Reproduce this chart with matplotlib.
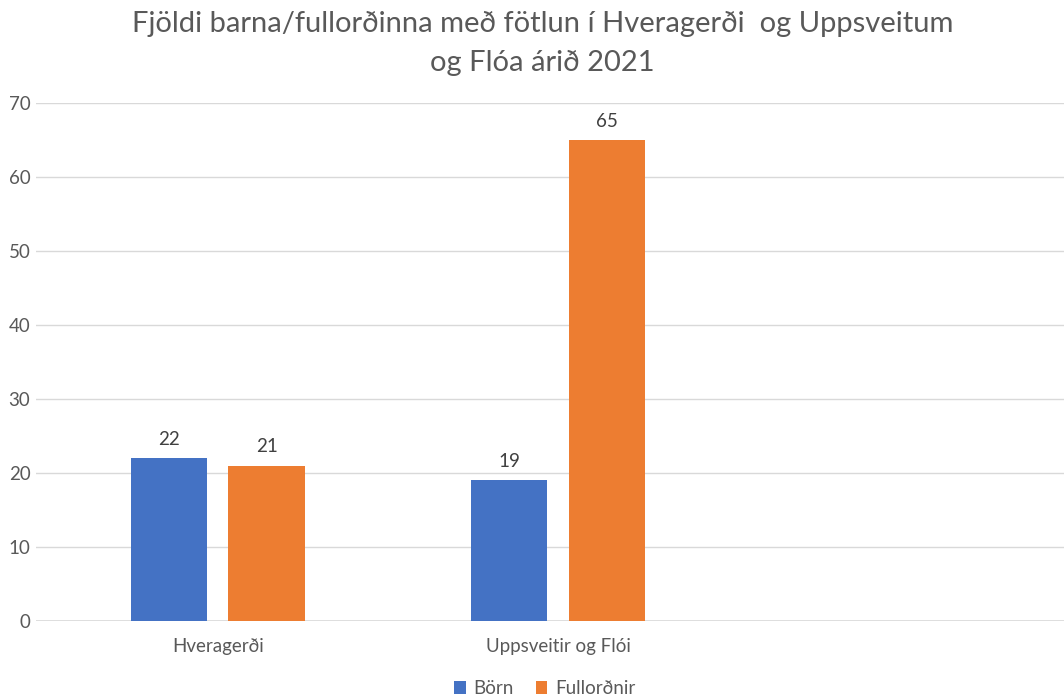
import numpy as np
import matplotlib
matplotlib.use("Agg")
import matplotlib.pyplot as plt

# gögn lesin af myndinni
flokkar = ["Hveragerði", "Uppsveitir og Flói", ""]
born = [22, 19, None]
fullordnir = [21, 65, None]
y_ticks = [0, 10, 20, 30, 40, 50, 60, 70]

plt.rcParams['font.family'] = ['Lato', 'DejaVu Sans']
grar = "#595959"

fig = plt.figure(figsize=(10.64, 6.97), dpi=100)
ax = fig.add_axes([36 / 1064, 76 / 697, (1064 - 36) / 1064, (621 - 103) / 697])

x = np.arange(len(flokkar))
b = 0.224
d = 0.143
born_v = [v if v is not None else 0 for v in born]
full_v = [v if v is not None else 0 for v in fullordnir]
r1 = ax.bar(x[:2] - d, born_v[:2], b, color="#4472C4", label="Börn", zorder=3)
r2 = ax.bar(x[:2] + d, full_v[:2], b, color="#ED7D31", label="Fullorðnir", zorder=3)

for rects in (r1, r2):
    for r in rects:
        ax.text(r.get_x() + r.get_width() / 2, r.get_height() + 1.4, "%d" % r.get_height(),
                ha="center", va="bottom", fontsize=13.5, color="#404040")

ax.set_xlim(-0.535, 2.488)
ax.set_ylim(0, 70)
ax.set_yticks(y_ticks)
ax.set_xticks(x)
ax.set_xticklabels(flokkar)
ax.tick_params(axis="both", length=0, labelsize=13.5, labelcolor=grar)
ax.tick_params(axis="x", pad=12)
ax.tick_params(axis="y", pad=4)
ax.grid(axis="y", color="#d9d9d9", linewidth=1, zorder=0)
for s in ax.spines.values():
    s.set_visible(False)
ax.axhline(0, color="#d9d9d9", linewidth=1.2, zorder=2)

fig.text(0.51, 0.985, "Fjöldi barna/fullorðinna með fötlun í Hveragerði  og Uppsveitum\nog Flóa árið 2021",
         ha="center", va="top", fontsize=21, color=grar, linespacing=1.65)

fig.legend(handles=[r1, r2], loc="lower center", bbox_to_anchor=(0.512, -0.024), ncol=2,
           frameon=False, fontsize=13.5, labelcolor=grar, handlelength=0.6, handleheight=0.7,
           handletextpad=0.4, columnspacing=1.2)

plt.savefig("out.png", dpi=100)
